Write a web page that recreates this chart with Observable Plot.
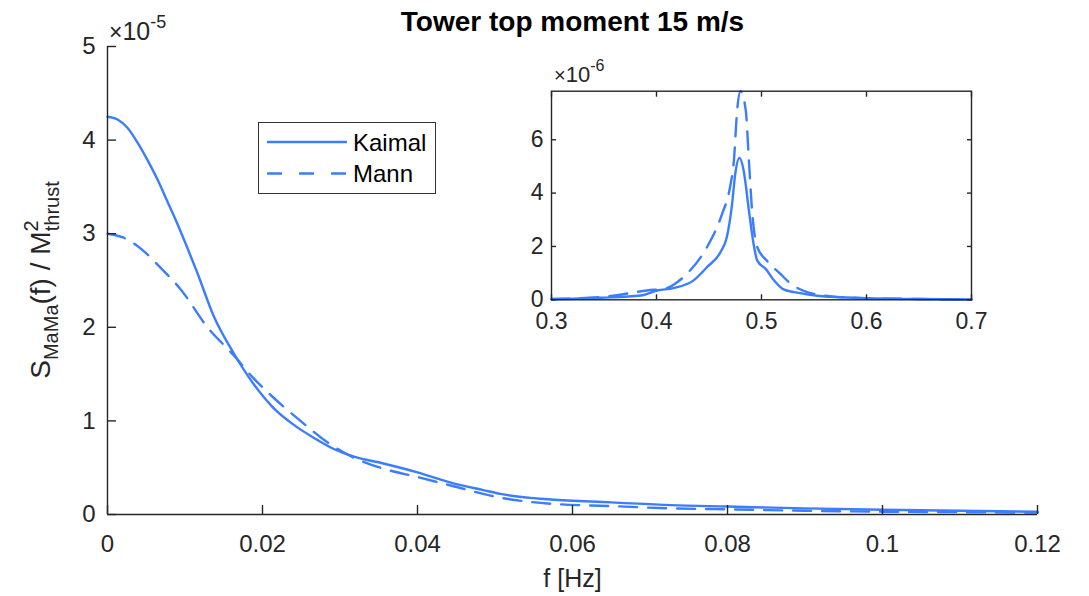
<!DOCTYPE html>
<html><head><meta charset="utf-8">
<script src="https://cdn.jsdelivr.net/npm/d3@7"></script>
<script src="https://cdn.jsdelivr.net/npm/@observablehq/plot@0.6"></script>
<style>
html,body{margin:0;padding:0;background:#fff;}
#wrap{position:relative;width:1089px;height:596px;font-family:"Liberation Sans",Arial,sans-serif;overflow:hidden;}
#main{position:absolute;left:0;top:0;}
#inset{position:absolute;left:500px;top:60px;}
#legend{position:absolute;left:258px;top:122px;width:176px;height:70px;border:1.3px solid #333;background:#fff;}
</style></head>
<body><div id="wrap"><div id="main"></div><div id="inset"></div><div id="legend"></div></div>
<script>
// ---- data (spectra in units of 1e-5 for the main axes, 1e-6 for the inset) ----
const kaimalF = [0, 0.0013, 0.0026, 0.0039, 0.0052, 0.0065, 0.0077, 0.009, 0.0103, 0.0116, 0.0137, 0.0163, 0.0188, 0.0214, 0.024, 0.0266, 0.0292, 0.0317, 0.0356, 0.04, 0.0443, 0.0485, 0.0507, 0.0572, 0.065, 0.0727, 0.08, 0.09, 0.1, 0.11, 0.12];
const kaimalS = [4.25, 4.22, 4.13, 3.97, 3.78, 3.57, 3.35, 3.11, 2.85, 2.58, 2.12, 1.72, 1.40, 1.14, 0.96, 0.82, 0.70, 0.62, 0.545, 0.45, 0.34, 0.26, 0.22, 0.16, 0.13, 0.10, 0.085, 0.065, 0.05, 0.04, 0.03];
const mannF = [0, 0.002, 0.0046, 0.0068, 0.0094, 0.0129, 0.0163, 0.0188, 0.0214, 0.0249, 0.0284, 0.0317, 0.0356, 0.04, 0.0443, 0.0507, 0.0572, 0.065, 0.0727, 0.08, 0.09, 0.1, 0.11, 0.12];
const mannS = [3.0, 2.96, 2.82, 2.64, 2.41, 2.0, 1.70, 1.46, 1.25, 1.0, 0.77, 0.61, 0.49, 0.40, 0.31, 0.18, 0.115, 0.09, 0.065, 0.055, 0.04, 0.03, 0.025, 0.02];

const kaimalInsetF = [0.3, 0.347, 0.385, 0.4007, 0.416, 0.435, 0.448, 0.461, 0.467, 0.472, 0.475, 0.479, 0.483, 0.488, 0.493, 0.496, 0.504, 0.512, 0.521, 0.537, 0.553, 0.6, 0.65, 0.7];
const kaimalInsetS = [0.02, 0.075, 0.16, 0.35, 0.44, 0.72, 1.22, 1.79, 2.35, 3.6, 4.72, 5.32, 4.85, 3.35, 1.97, 1.47, 1.16, 0.72, 0.39, 0.25, 0.15, 0.06, 0.03, 0.01];
const mannInsetF = [0.3, 0.347, 0.391, 0.41, 0.4197, 0.432, 0.448, 0.4625, 0.47, 0.4737, 0.4768, 0.48, 0.485, 0.488, 0.491, 0.496, 0.505, 0.518, 0.528, 0.5435, 0.569, 0.6, 0.65, 0.7];
const mannInsetS = [0.03, 0.1, 0.35, 0.44, 0.66, 1.1, 1.97, 3.22, 4.22, 5.22, 7.1, 7.82, 7.1, 5.22, 3.35, 1.97, 1.47, 0.97, 0.6, 0.29, 0.12, 0.06, 0.03, 0.01];

const xTicks = [0, 0.02, 0.04, 0.06, 0.08, 0.1, 0.12];
const yTicks = [0, 1, 2, 3, 4, 5];
const insetXTicks = [0.3, 0.4, 0.5, 0.6, 0.7];
const insetYTicks = [0, 2, 4, 6];
const seriesNames = ["Kaimal", "Mann"];
const titleText = "Tower top moment 15 m/s";
const xLabel = "f [Hz]";

const blue = "#3b7dff";
const ink = "#262626";
const FONT = '"Liberation Sans", Arial, sans-serif';
const fmt = d3.format("~g");
const blank = () => "";
const rows = (F, S) => F.map((f, i) => ({f, s: S[i]}));

// ---- main axes ----
const main = Plot.plot({
  width: 1089, height: 596,
  marginLeft: 107, marginRight: 52, marginTop: 46, marginBottom: 82,
  x: {domain: [0, 0.12]},
  y: {domain: [0, 5]},
  style: {fontFamily: FONT, fontSize: "24px", color: ink, background: "transparent", overflow: "visible"},
  marks: [
    Plot.line(rows(kaimalF, kaimalS), {x: "f", y: "s", stroke: blue, strokeWidth: 2.4, curve: "monotone-x"}),
    Plot.line(rows(mannF, mannS), {x: "f", y: "s", stroke: blue, strokeWidth: 2.4, strokeDasharray: "18,11", curve: "monotone-x"}),
    Plot.ruleY([0], {stroke: ink, strokeWidth: 1.4}),
    Plot.ruleX([0], {stroke: ink, strokeWidth: 1.4}),
    // inward ticks (MATLAB style)
    Plot.axisX({ticks: xTicks, tickFormat: blank, tickSize: 9, dy: -9, label: null, stroke: ink, strokeWidth: 1.4}),
    Plot.axisY({ticks: yTicks, tickFormat: blank, tickSize: 9, dx: 9, label: null, stroke: ink, strokeWidth: 1.4}),
    // tick labels
    Plot.axisX({ticks: xTicks, tickFormat: fmt, tickSize: 0, tickPadding: 20, label: null, fill: ink}),
    Plot.axisY({ticks: yTicks, tickFormat: fmt, tickSize: 0, tickPadding: 12, label: null, fill: ink}),
    Plot.text([titleText], {frameAnchor: "top", lineAnchor: "middle", dy: -24, fontWeight: "bold", fontSize: 28, fill: "#000"}),
    Plot.text([xLabel], {frameAnchor: "bottom", lineAnchor: "middle", dy: 64, fontSize: 25, fill: ink})
  ]
});
document.getElementById("main").appendChild(main);
{
  const svg = d3.select(main);
  const ex = svg.append("text").attr("x", 109).attr("y", 40).attr("text-anchor", "start").attr("fill", ink).attr("font-size", 25).attr("font-family", FONT);
  ex.append("tspan").attr("font-size", 23).text("\u00d7");
  ex.append("tspan").text("10");
  ex.append("tspan").attr("font-size", 18).attr("dy", -12).text("-5");

  const yl = svg.append("text").attr("transform", "translate(50,280) rotate(-90)").attr("text-anchor", "middle")
    .attr("fill", ink).attr("font-size", 28).attr("font-family", FONT);
  yl.append("tspan").text("S");
  yl.append("tspan").attr("font-size", 20).attr("dy", 8).text("MaMa");
  yl.append("tspan").attr("dy", -8).text("(f) / M");
  yl.append("tspan").attr("font-size", 20).attr("dy", -12).text("2");
  yl.append("tspan").attr("font-size", 20).attr("dx", -11).attr("dy", 21).text("thrust");
}

// ---- inset axes ----
const inset = Plot.plot({
  width: 500, height: 290,
  marginLeft: 51, marginRight: 29, marginTop: 30.7, marginBottom: 50.7,
  x: {domain: [0.3, 0.7]},
  y: {domain: [0, 7.82]},
  style: {fontFamily: FONT, fontSize: "23px", color: ink, background: "transparent", overflow: "visible"},
  marks: [
    Plot.frame({fill: "white", stroke: null}),
    Plot.line(rows(kaimalInsetF, kaimalInsetS), {x: "f", y: "s", stroke: blue, strokeWidth: 2.4, curve: "monotone-x"}),
    Plot.line(rows(mannInsetF, mannInsetS), {x: "f", y: "s", stroke: blue, strokeWidth: 2.4, strokeDasharray: "18,11", curve: "monotone-x"}),
    Plot.frame({stroke: ink, strokeWidth: 1.4}),
    Plot.axisX({ticks: insetXTicks, tickFormat: blank, tickSize: 5, dy: -5, label: null, stroke: ink, strokeWidth: 1.4}),
    Plot.axisX({anchor: "top", ticks: insetXTicks, tickFormat: blank, tickSize: 5, dy: 5, label: null, stroke: ink, strokeWidth: 1.4}),
    Plot.axisY({ticks: insetYTicks, tickFormat: blank, tickSize: 5, dx: 5, label: null, stroke: ink, strokeWidth: 1.4}),
    Plot.axisY({anchor: "right", ticks: insetYTicks, tickFormat: blank, tickSize: 5, dx: -5, label: null, stroke: ink, strokeWidth: 1.4}),
    Plot.axisX({ticks: insetXTicks, tickFormat: fmt, tickSize: 0, tickPadding: 13, label: null, fill: ink}),
    Plot.axisY({ticks: insetYTicks, tickFormat: fmt, tickSize: 0, tickPadding: 8, label: null, fill: ink})
  ]
});
document.getElementById("inset").appendChild(inset);
{
  const svg = d3.select(inset);
  const ex = svg.append("text").attr("x", 54).attr("y", 22).attr("text-anchor", "start").attr("fill", ink).attr("font-size", 22).attr("font-family", FONT);
  ex.append("tspan").attr("font-size", 20).text("\u00d7");
  ex.append("tspan").text("10");
  ex.append("tspan").attr("font-size", 16).attr("dy", -11).text("-6");
}

// ---- legend ----
{
  const lg = d3.select("#legend").append("svg").attr("width", 176).attr("height", 70)
    .attr("font-family", FONT).attr("font-size", 24);
  seriesNames.forEach((name, i) => {
    const y = 19 + i * 31.5;
    lg.append("line").attr("x1", 8).attr("x2", 88).attr("y1", y).attr("y2", y)
      .attr("stroke", blue).attr("stroke-width", 2.4)
      .attr("stroke-dasharray", i === 1 ? "15,17" : null);
    lg.append("text").attr("x", 94).attr("y", y).attr("dy", "0.36em").attr("fill", "#000").text(name);
  });
}
</script>
</body></html>
